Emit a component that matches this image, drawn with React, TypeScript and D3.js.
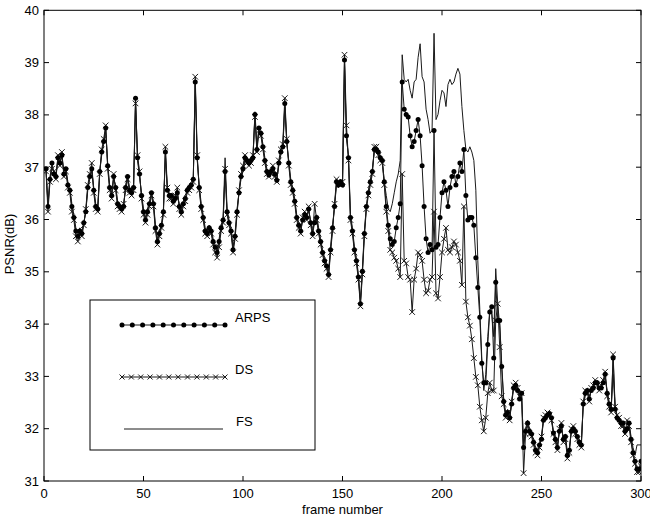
import * as d3 from "d3";

const W = 650;
const H = 517;
const M = { left: 44, right: 641, top: 10.3, bottom: 481 };

const xTicks = [0, 50, 100, 150, 200, 250, 300];
const yTicks = [31, 32, 33, 34, 35, 36, 37, 38, 39, 40];

// PSNR (dB) per frame, frames 1..300
const arps = [
  36.97, 36.25, 36.77, 37.08, 36.87, 36.82, 37.18, 37.08, 37.23, 36.87,
  36.97, 36.66, 36.56, 36.25, 36.04, 35.78, 35.68, 35.78, 35.73, 35.94,
  36.15, 36.61, 36.82, 36.97, 36.56, 36.25, 36.20, 36.92, 37.29, 37.49,
  37.75, 37.03, 36.61, 36.46, 36.82, 36.61, 36.30, 36.25, 36.20, 36.25,
  36.61, 36.82, 36.56, 36.51, 36.61, 38.32, 37.18, 36.87, 36.46, 36.15,
  35.99, 36.15, 36.30, 36.51, 36.30, 35.84, 35.58, 35.73, 35.89, 36.15,
  37.29, 36.56, 36.46, 36.46, 36.35, 36.40, 36.51, 36.25, 36.15, 36.30,
  36.40, 36.56, 36.61, 36.66, 36.77, 38.63, 37.18, 36.61, 36.25, 36.04,
  35.78, 35.73, 35.84, 35.78, 35.58, 35.47, 35.37, 35.58, 35.84, 35.99,
  36.92, 36.15, 35.94, 35.78, 35.42, 35.68, 36.15, 36.51, 36.82, 36.97,
  37.18, 37.13, 37.08, 37.13, 37.18, 38.01, 37.34, 37.75, 37.65, 37.39,
  37.13, 36.92, 36.85, 36.92, 36.97, 36.87, 36.75, 37.08, 37.29, 37.39,
  38.22, 37.49, 37.08, 36.72, 36.56, 36.35, 36.04, 35.89, 35.78, 35.99,
  36.09, 36.04, 36.20, 35.94, 35.73, 35.94, 36.04, 35.78, 35.58, 35.37,
  35.21, 35.11, 34.95, 35.42, 35.84, 36.25, 36.72, 36.66, 36.72, 36.66,
  39.05, 37.60, 37.18, 36.04, 35.78, 35.42, 35.21, 34.90, 34.39, 35.01,
  35.73, 36.25, 36.51, 36.72, 36.92, 37.34, 37.34, 37.29, 37.18, 37.13,
  36.72, 36.25, 35.89, 35.63, 35.52, 35.58, 35.84, 36.04, 36.30, 38.63,
  38.11, 38.01, 37.96, 37.60, 37.39, 37.49, 37.70, 37.91, 37.60, 37.03,
  36.25, 35.63, 35.37, 35.52, 35.42, 37.70, 35.47, 35.52, 36.04, 36.51,
  36.72, 36.56, 36.25, 36.61, 36.82, 36.92, 36.66, 36.82, 37.08, 36.92,
  37.34, 36.46, 35.99, 36.04, 36.04, 35.89, 35.27, 34.70, 34.13, 33.25,
  32.88, 32.88, 33.61, 34.23, 34.33, 33.35, 34.80, 34.07, 34.07, 33.19,
  32.52, 32.26, 32.31, 32.21, 32.47, 32.78, 32.83, 32.73, 32.57, 32.68,
  31.64, 31.95, 32.11, 31.95, 31.90, 31.74, 31.59, 31.54, 31.69, 31.80,
  32.16, 32.21, 32.26, 32.29, 32.21, 31.92, 31.80, 31.64, 31.95, 32.05,
  31.80, 31.85, 31.49, 31.59, 31.95, 32.00, 31.95, 31.85, 31.74, 31.69,
  32.47, 32.68, 32.73, 32.57, 32.73, 32.78, 32.88, 32.88, 32.78, 32.78,
  32.88, 33.04, 32.68, 32.47, 32.37, 33.35, 32.37, 32.21, 32.16, 32.11,
  32.11, 31.95, 32.00, 32.11, 31.80, 31.54, 31.38, 31.23, 31.23, 31.38,
];

const ds = [
  36.92, 36.15, 36.72, 36.97, 36.92, 36.77, 37.23, 37.03, 37.29, 36.82,
  36.92, 36.61, 36.51, 36.15, 35.99, 35.68, 35.58, 35.73, 35.68, 35.89,
  36.20, 36.66, 36.87, 37.08, 36.51, 36.20, 36.15, 36.87, 37.34, 37.54,
  37.80, 36.97, 36.56, 36.40, 36.87, 36.56, 36.25, 36.20, 36.15, 36.30,
  36.56, 36.77, 36.51, 36.46, 36.56, 38.22, 37.23, 36.92, 36.40, 36.09,
  35.94, 36.09, 36.25, 36.46, 36.25, 35.78, 35.52, 35.68, 35.84, 36.09,
  37.39, 36.61, 36.40, 36.40, 36.30, 36.46, 36.61, 36.20, 36.09, 36.25,
  36.35, 36.51, 36.56, 36.61, 36.72, 38.73, 37.23, 36.56, 36.20, 35.99,
  35.73, 35.68, 35.78, 35.73, 35.52, 35.37, 35.27, 35.47, 35.78, 35.94,
  36.97, 36.09, 35.89, 35.73, 35.37, 35.63, 36.09, 36.56, 36.87, 37.03,
  37.23, 37.08, 37.03, 37.08, 37.23, 37.96, 37.29, 37.70, 37.60, 37.34,
  37.08, 36.87, 36.82, 36.87, 37.03, 36.82, 36.72, 37.13, 37.34, 37.44,
  38.32, 37.54, 37.03, 36.66, 36.51, 36.30, 35.99, 35.84, 35.73, 36.04,
  36.15, 35.99, 36.25, 35.89, 35.68, 36.30, 35.99, 35.73, 35.52, 35.32,
  35.16, 35.06, 34.90, 35.37, 35.78, 36.30, 36.77, 36.72, 36.66, 36.72,
  39.15, 37.80, 37.13, 35.99, 35.73, 35.37, 35.16, 34.85, 34.34, 34.95,
  35.68, 36.20, 36.46, 36.66, 36.87, 37.39, 37.39, 37.23, 37.13, 37.08,
  36.66, 36.15, 35.78, 35.42, 35.37, 35.27, 35.21, 35.06, 34.90, 36.87,
  35.21, 35.16, 34.90, 34.85, 34.23, 34.85, 35.06, 35.37, 35.32, 35.21,
  34.85, 34.59, 34.64, 34.85, 34.90, 36.15, 34.59, 34.49, 34.90, 35.37,
  35.63, 35.84, 35.42, 35.37, 35.47, 35.58, 35.52, 35.37, 35.21, 34.75,
  36.25, 34.43, 34.13, 33.97, 33.71, 33.35, 32.99, 32.83, 32.42, 32.16,
  31.95, 32.21, 32.68, 32.88, 32.73, 32.73, 34.07, 34.39, 33.56, 32.62,
  32.47, 32.21, 32.31, 32.16, 32.52, 32.83, 32.88, 32.78, 32.62, 32.68,
  31.15, 31.90, 32.05, 31.90, 31.85, 31.69, 31.54, 31.49, 31.64, 31.85,
  32.21, 32.26, 32.31, 32.26, 32.16, 31.90, 31.74, 31.59, 32.00, 32.11,
  31.74, 31.80, 31.43, 31.54, 32.00, 32.05, 31.90, 31.80, 31.69, 31.64,
  32.52, 32.73, 32.68, 32.52, 32.78, 32.83, 32.93, 32.83, 32.73, 32.83,
  32.93, 33.09, 32.62, 32.42, 32.31, 33.42, 32.42, 32.26, 32.21, 32.05,
  32.05, 31.90, 32.16, 32.05, 31.74, 31.49, 31.33, 31.17, 31.17, 31.28,
];

const fs = [
  36.97, 36.30, 36.82, 37.03, 36.92, 36.87, 37.13, 37.13, 37.18, 36.92,
  36.97, 36.72, 36.61, 36.30, 36.09, 35.84, 35.73, 35.84, 35.78, 35.94,
  36.15, 36.56, 36.77, 36.92, 36.61, 36.30, 36.25, 36.92, 37.23, 37.44,
  37.70, 37.08, 36.66, 36.51, 36.77, 36.66, 36.35, 36.30, 36.25, 36.25,
  36.66, 36.82, 36.61, 36.56, 36.66, 38.27, 37.13, 36.82, 36.51, 36.20,
  36.04, 36.20, 36.35, 36.51, 36.35, 35.89, 35.63, 35.78, 35.89, 36.20,
  37.23, 36.56, 36.51, 36.46, 36.40, 36.40, 36.46, 36.30, 36.20, 36.35,
  36.46, 36.56, 36.66, 36.72, 36.77, 38.58, 37.13, 36.66, 36.30, 36.09,
  35.84, 35.78, 35.89, 35.84, 35.63, 35.52, 35.42, 35.63, 35.89, 36.04,
  37.18, 36.20, 35.99, 35.84, 35.47, 35.73, 36.20, 36.51, 36.77, 36.92,
  37.13, 37.18, 37.13, 37.18, 37.13, 38.06, 37.39, 37.75, 37.70, 37.44,
  37.18, 36.97, 36.87, 36.97, 36.97, 36.92, 36.77, 37.03, 37.23, 37.34,
  38.16, 37.44, 37.13, 36.77, 36.61, 36.40, 36.09, 35.94, 35.84, 35.99,
  36.09, 36.09, 36.15, 35.99, 35.78, 35.99, 36.09, 35.84, 35.63, 35.42,
  35.27, 35.16, 35.01, 35.47, 35.89, 36.25, 36.66, 36.61, 36.72, 36.66,
  38.99, 37.54, 37.23, 36.09, 35.84, 35.47, 35.27, 34.95, 34.44, 35.06,
  35.78, 36.25, 36.56, 36.77, 36.97, 37.29, 37.29, 37.29, 37.23, 37.13,
  36.72, 36.46, 36.20, 36.15, 36.30, 36.51, 36.72, 36.87, 37.13, 39.15,
  38.68, 38.63, 38.68, 38.47, 38.32, 38.63, 38.68, 39.10, 39.36, 38.73,
  38.63, 38.11, 37.91, 37.65, 37.70, 39.56, 37.91, 38.01, 38.27, 38.47,
  38.42, 38.16, 38.58, 38.68, 38.58, 38.63, 38.78, 38.89, 38.78, 38.16,
  37.70, 37.34, 37.29, 37.39, 37.29, 37.13, 36.56, 35.21, 34.28, 33.35,
  32.73, 33.04, 33.76, 34.28, 34.18, 33.76, 35.06, 34.39, 33.97, 33.25,
  32.57, 32.31, 32.37, 32.21, 32.52, 32.78, 32.83, 32.78, 32.62, 32.62,
  31.69, 32.00, 32.16, 32.00, 31.90, 31.80, 31.64, 31.59, 31.74, 31.85,
  32.16, 32.21, 32.26, 32.26, 32.21, 31.95, 31.85, 31.69, 31.95, 32.05,
  31.80, 31.90, 31.54, 31.64, 31.95, 32.00, 31.95, 31.85, 31.80, 31.74,
  32.47, 32.62, 32.73, 32.62, 32.73, 32.78, 32.88, 32.93, 32.78, 32.78,
  32.88, 32.99, 32.73, 32.52, 32.37, 33.04, 32.42, 32.21, 32.21, 32.11,
  32.11, 32.00, 32.00, 32.11, 31.85, 31.64, 31.49, 31.69, 31.69, 31.69,
];

const FONT = "'Liberation Sans', Arial, Helvetica, sans-serif";
const INK = "#1a1a1a";

const x = d3.scaleLinear().domain([0, 300]).range([M.left, M.right]);
const y = d3.scaleLinear().domain([31, 40]).range([M.bottom, M.top]);

const toPts = (vals: number[]) => vals.map((v, i) => [i + 1, v] as [number, number]);

const line = d3
  .line<[number, number]>()
  .x((d) => x(d[0]))
  .y((d) => y(d[1]));

const Cross = ({ cx, cy, s = 2.8 }: { cx: number; cy: number; s?: number }) => (
  <path
    d={`M${cx - s},${cy - s}L${cx + s},${cy + s}M${cx - s},${cy + s}L${cx + s},${cy - s}`}
    stroke={INK}
    strokeWidth={1}
  />
);

export default function App() {
  const pA = toPts(arps);
  const pD = toPts(ds);
  const pF = toPts(fs);

  const legX0 = 122;
  const legX1 = 225;
  const legDots = d3.range(11).map((i) => legX0 + (i * (legX1 - legX0)) / 10);
  const legCross = d3.range(12).map((i) => legX0 + (i * (legX1 - legX0)) / 11);

  return (
    <svg
      width={W}
      height={H}
      style={{ position: "absolute", left: 0, top: 0, background: "#fff" }}
      fontFamily={FONT}
    >
      <defs>
        <clipPath id="plot">
          <rect x={M.left} y={M.top} width={M.right - M.left} height={M.bottom - M.top} />
        </clipPath>
      </defs>

      <g clipPath="url(#plot)">
        <path d={line(pF) ?? ""} fill="none" stroke={INK} strokeWidth={1} />
        <path d={line(pD) ?? ""} fill="none" stroke={INK} strokeWidth={1} />
        {pD.map((d, i) => (
          <Cross key={"d" + i} cx={x(d[0])} cy={y(d[1])} />
        ))}
        <path d={line(pA) ?? ""} fill="none" stroke={INK} strokeWidth={1} />
        {pA.map((d, i) => (
          <circle key={"a" + i} cx={x(d[0])} cy={y(d[1])} r={2.5} fill="#000" />
        ))}
      </g>

      {/* axes box */}
      <rect
        x={M.left}
        y={M.top}
        width={M.right - M.left}
        height={M.bottom - M.top}
        fill="none"
        stroke="#000"
        strokeWidth={1}
      />

      {xTicks.map((t) => (
        <g key={"xt" + t}>
          <line x1={x(t)} x2={x(t)} y1={M.bottom} y2={M.bottom - 5} stroke="#000" />
          <line x1={x(t)} x2={x(t)} y1={M.top} y2={M.top + 5} stroke="#000" />
          <text x={x(t)} y={M.bottom + 17} textAnchor="middle" fontSize={13} fill="#000">
            {t}
          </text>
        </g>
      ))}
      {yTicks.map((t) => (
        <g key={"yt" + t}>
          <line x1={M.left} x2={M.left + 5} y1={y(t)} y2={y(t)} stroke="#000" />
          <line x1={M.right} x2={M.right - 5} y1={y(t)} y2={y(t)} stroke="#000" />
          <text x={M.left - 5} y={y(t) + 4.5} textAnchor="end" fontSize={13} fill="#000">
            {t}
          </text>
        </g>
      ))}

      <text x={(M.left + M.right) / 2} y={514} textAnchor="middle" fontSize={13} fill="#000">
        frame number
      </text>
      <text
        transform={`translate(14, ${244}) rotate(-90)`}
        textAnchor="middle"
        fontSize={13}
        fill="#000"
      >
        PSNR(dB)
      </text>

      {/* legend */}
      <rect x={90} y={300} width={225} height={150} fill="#fff" stroke="#000" strokeWidth={1} />
      <line x1={legX0} x2={legX1} y1={325} y2={325} stroke={INK} strokeWidth={1} />
      {legDots.map((lx, i) => (
        <circle key={"ld" + i} cx={lx} cy={325} r={2.5} fill="#000" />
      ))}
      <text x={235} y={322} fontSize={13} fill="#000">ARPS</text>

      <line x1={legX0} x2={legX1} y1={377} y2={377} stroke={INK} strokeWidth={1} />
      {legCross.map((lx, i) => (
        <Cross key={"lc" + i} cx={lx} cy={377} s={2.5} />
      ))}
      <text x={235} y={374} fontSize={13} fill="#000">DS</text>

      <line x1={124} x2={223} y1={429} y2={429} stroke={INK} strokeWidth={1} />
      <text x={236} y={426} fontSize={13} fill="#000">FS</text>
    </svg>
  );
}
